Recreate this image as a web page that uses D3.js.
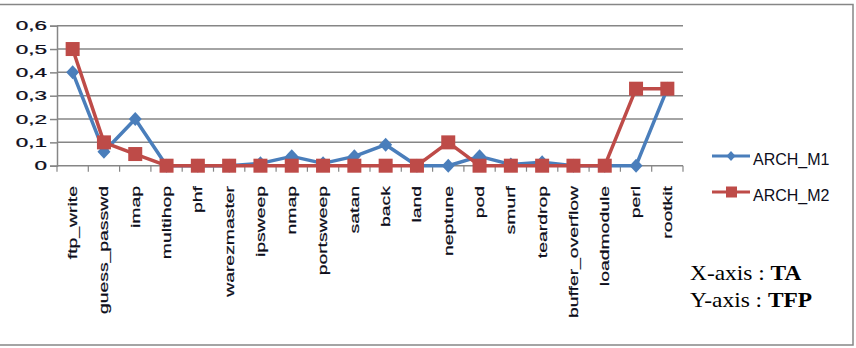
<!DOCTYPE html>
<html>
<head>
<meta charset="utf-8">
<script src="https://cdn.jsdelivr.net/npm/d3@7"></script>
<style>
  html, body { margin: 0; padding: 0; background: #fff; }
  svg { display: block; }
</style>
</head>
<body>
<svg id="chart" width="856" height="348"></svg>
<script>
const categories = ["ftp_write","guess_passwd","imap","multihop","phf","warezmaster","ipsweep","nmap","portsweep","satan","back","land","neptune","pod","smurf","teardrop","buffer_overflow","loadmodule","perl","rootkit"];
const archM1 = [0.40,0.06,0.20,0,0,0,0.01,0.04,0.01,0.04,0.09,0,0,0.04,0.005,0.015,0,0,0,0.33];
const archM2 = [0.50,0.10,0.05,0,0,0,0,0,0,0,0,0,0.10,0,0,0,0,0,0.33,0.33];
const yTicks = [0,0.1,0.2,0.3,0.4,0.5,0.6];
const yTickLabels = ["0","0,1","0,2","0,3","0,4","0,5","0,6"];
const seriesNames = ["ARCH_M1","ARCH_M2"];
const notes = [{pre:"X-axis : ", bold:"TA"},{pre:"Y-axis : ", bold:"TFP"}];

const svg = d3.select("#chart");
const grid = "#868686";
const blue = "#4A7EBB", red = "#BE4B48";
const plotL = 57, plotR = 683, plotT = 25.7, plotB = 165.7;

// outer frame
svg.append("rect").attr("x", -2).attr("y", 4.5).attr("width", 855).attr("height", 340.5)
  .attr("fill", "none").attr("stroke", grid).attr("stroke-width", 1.5);

const x = d3.scaleBand().domain(categories).range([plotL, plotR]).paddingInner(0).paddingOuter(0);
const y = d3.scaleLinear().domain([0, 0.6]).range([plotB, plotT]);
const cx = c => x(c) + x.bandwidth() / 2;

// gridlines
svg.append("g").selectAll("line").data(yTicks.filter(v => v > 0)).join("line")
  .attr("x1", plotL).attr("x2", plotR).attr("y1", d => y(d)).attr("y2", d => y(d))
  .attr("stroke", grid).attr("stroke-width", 1.5);

// y axis
const yAxis = svg.append("g").attr("transform", `translate(${plotL},0)`)
  .call(d3.axisLeft(y).tickValues(yTicks).tickSize(7).tickFormat(""));
yAxis.select(".domain").attr("stroke", grid).attr("stroke-width", 1.5);
yAxis.selectAll(".tick line").attr("stroke", grid).attr("stroke-width", 1.5);

svg.append("g").selectAll("text").data(yTicks).join("text")
  .attr("transform", d => `translate(47,${y(d)}) scale(1.8,1)`)
  .attr("text-anchor", "end").attr("dy", "0.36em")
  .attr("font-family", "Liberation Sans, Arial, sans-serif").attr("font-size", 12.5)
  .attr("fill", "#0d0d1a").attr("stroke", "#0d0d1a").attr("stroke-width", 0.25)
  .text((d, i) => yTickLabels[i]);

// x axis
const xAxisG = svg.append("g").attr("transform", `translate(0,${plotB})`);
xAxisG.append("line").attr("x1", plotL).attr("x2", plotR).attr("stroke", grid).attr("stroke-width", 1.5);
const bounds = categories.map(c => x(c)).concat([x(categories[categories.length - 1]) + x.bandwidth()]);
xAxisG.selectAll("line.tk").data(bounds).join("line").attr("class", "tk")
  .attr("x1", d => d).attr("x2", d => d).attr("y1", 0).attr("y2", 6)
  .attr("stroke", grid).attr("stroke-width", 1.2);

svg.append("g").selectAll("text").data(categories).join("text")
  .attr("transform", d => `translate(${cx(d)},186) rotate(-90) scale(1.55,1)`)
  .attr("text-anchor", "end").attr("dy", "0.35em")
  .attr("font-family", "Liberation Sans, Arial, sans-serif").attr("font-size", 12.5)
  .attr("fill", "#0d0d1a").attr("stroke", "#0d0d1a").attr("stroke-width", 0.2)
  .text(d => d);

// lines
const line = d3.line().x(d => cx(d.c)).y(d => y(d.v));
const d1 = categories.map((c, i) => ({c, v: archM1[i]}));
const d2 = categories.map((c, i) => ({c, v: archM2[i]}));

svg.append("path").datum(d1).attr("d", line).attr("fill", "none")
  .attr("stroke", blue).attr("stroke-width", 3.5).attr("stroke-linejoin", "round");
svg.append("g").selectAll("path").data(d1).join("path")
  .attr("d", d => `M${cx(d.c)},${y(d.v) - 7}l6.5,7l-6.5,7l-6.5,-7z`)
  .attr("fill", blue);

svg.append("path").datum(d2).attr("d", line).attr("fill", "none")
  .attr("stroke", red).attr("stroke-width", 3.5).attr("stroke-linejoin", "round");
svg.append("g").selectAll("rect").data(d2).join("rect")
  .attr("x", d => cx(d.c) - 7).attr("y", d => y(d.v) - 7)
  .attr("width", 14).attr("height", 14).attr("fill", red);

// legend
const leg = svg.append("g");
const legY = [156, 192];
const legColors = [blue, red];
seriesNames.forEach((name, i) => {
  const g = leg.append("g");
  g.append("line").attr("x1", 712).attr("x2", 750).attr("y1", legY[i]).attr("y2", legY[i])
    .attr("stroke", legColors[i]).attr("stroke-width", 3);
  if (i === 0) {
    g.append("path").attr("d", `M731,${legY[i] - 5}l4.5,5l-4.5,5l-4.5,-5z`).attr("fill", blue);
  } else {
    g.append("rect").attr("x", 726).attr("y", legY[i] - 5.5).attr("width", 11).attr("height", 11).attr("fill", red);
  }
  g.append("text").attr("x", 753).attr("y", legY[i] + 9)
    .attr("font-family", "Liberation Sans, Arial, sans-serif").attr("font-size", 16)
    .attr("fill", "#0d0d1a").text(name);
});

// axis notes
const noteY = [280, 306.5];
notes.forEach((n, i) => {
  const t = svg.append("text").attr("transform", `translate(690,${noteY[i]}) scale(1.17,1)`)
    .attr("font-family", "Liberation Serif, Times New Roman, serif").attr("font-size", 20)
    .attr("fill", "#000");
  t.append("tspan").text(n.pre);
  t.append("tspan").attr("font-weight", "bold").text(n.bold);
});
</script>
</body>
</html>
